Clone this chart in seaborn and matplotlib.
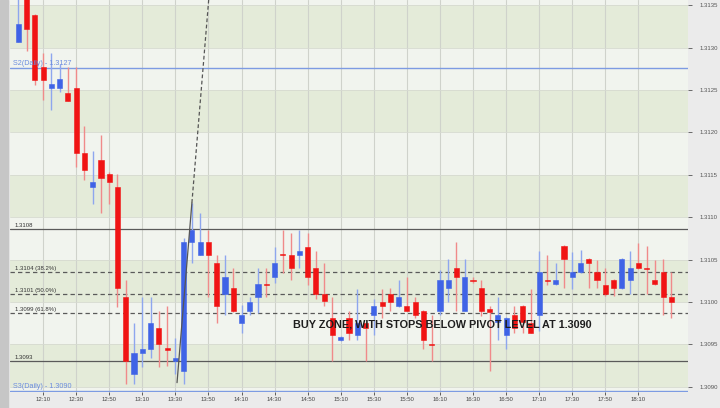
import numpy as np
import pandas as pd
import matplotlib
matplotlib.use('Agg')
import matplotlib.pyplot as plt
import matplotlib.dates as mdates
import matplotlib.transforms as mtrans
import seaborn as sns

# 5 minute candles, 11:55 - 18:30
times = pd.date_range('2013-05-20 11:55', periods=80, freq='5min')

opens = [1.31307, 1.31358, 1.31338, 1.31277, 1.31252, 1.31252, 1.31246, 1.31252, 1.31176, 1.31136,
         1.31167, 1.31151, 1.31136, 1.31006, 1.30915, 1.30940, 1.30945, 1.30970, 1.30945, 1.30930,
         1.30919, 1.31071, 1.31055, 1.31071, 1.31046, 1.31010, 1.31016, 1.30975, 1.30990, 1.31006,
         1.31021, 1.31030, 1.31056, 1.31055, 1.31055, 1.31065, 1.31040, 1.31010, 1.30981, 1.30955,
         1.30981, 1.30961, 1.30975, 1.30985, 1.31000, 1.31010, 1.30995, 1.30995, 1.31000, 1.30990,
         1.30950, 1.30990, 1.31016, 1.31040, 1.30990, 1.31026, 1.31016, 1.30992, 1.30976, 1.30961,
         1.30985, 1.30995, 1.30975, 1.30985, 1.31026, 1.31021, 1.31066, 1.31030, 1.31035, 1.31051,
         1.31035, 1.31020, 1.31026, 1.31016, 1.31026, 1.31046, 1.31040, 1.31026, 1.31035, 1.31006]
highs = [1.31370, 1.31370, 1.31340, 1.31293, 1.31293, 1.31281, 1.31277, 1.31277, 1.31207, 1.31178,
         1.31197, 1.31153, 1.31151, 1.31026, 1.30975, 1.31006, 1.31006, 1.30990, 1.30995, 1.30958,
         1.31076, 1.31117, 1.31105, 1.31085, 1.31055, 1.31055, 1.31040, 1.30996, 1.31006, 1.31040,
         1.31040, 1.31065, 1.31085, 1.31081, 1.31085, 1.31081, 1.31060, 1.31046, 1.31006, 1.30960,
         1.30990, 1.31015, 1.30976, 1.31004, 1.31015, 1.31016, 1.31026, 1.31030, 1.31006, 1.30991,
         1.30985, 1.31038, 1.31051, 1.31071, 1.31051, 1.31030, 1.31026, 1.30995, 1.31006, 1.30982,
         1.30995, 1.30996, 1.31015, 1.31060, 1.31056, 1.31046, 1.31067, 1.31059, 1.31061, 1.31052,
         1.31050, 1.31040, 1.31027, 1.31052, 1.31060, 1.31070, 1.31066, 1.31050, 1.31051, 1.31035]
lows = [1.31307, 1.31296, 1.31256, 1.31238, 1.31226, 1.31248, 1.31237, 1.31159, 1.31144, 1.31116,
        1.31105, 1.31116, 1.30994, 1.30904, 1.30904, 1.30923, 1.30934, 1.30924, 1.30925, 1.30915,
        1.30904, 1.31046, 1.31055, 1.31006, 1.30975, 1.30985, 1.30988, 1.30964, 1.30985, 1.30987,
        1.31006, 1.31022, 1.31034, 1.31026, 1.31040, 1.31020, 1.31004, 1.30995, 1.30931, 1.30954,
        1.30955, 1.30955, 1.30931, 1.30961, 1.30981, 1.30990, 1.30994, 1.30989, 1.30981, 1.30945,
        1.30931, 1.30985, 1.31000, 1.30990, 1.30989, 1.31022, 1.30983, 1.30919, 1.30955, 1.30945,
        1.30964, 1.30964, 1.30963, 1.30966, 1.31020, 1.31020, 1.31016, 1.31015, 1.31034, 1.31016,
        1.31016, 1.31007, 1.31007, 1.31015, 1.31010, 1.31039, 1.31010, 1.31020, 1.30985, 1.30981]
closes = [1.31328, 1.31322, 1.31262, 1.31262, 1.31257, 1.31263, 1.31237, 1.31176, 1.31156, 1.31142,
          1.31146, 1.31141, 1.31016, 1.30930, 1.30940, 1.30945, 1.30975, 1.30950, 1.30944, 1.30934,
          1.31071, 1.31085, 1.31071, 1.31055, 1.30995, 1.31030, 1.30990, 1.30985, 1.31000, 1.31021,
          1.31020, 1.31046, 1.31055, 1.31040, 1.31060, 1.31030, 1.31010, 1.31001, 1.30961, 1.30959,
          1.30964, 1.30975, 1.30970, 1.30995, 1.30995, 1.31000, 1.31006, 1.30990, 1.30985, 1.30955,
          1.30949, 1.31026, 1.31026, 1.31030, 1.31030, 1.31025, 1.30990, 1.30988, 1.30985, 1.30981,
          1.30970, 1.30976, 1.30964, 1.31035, 1.31025, 1.31026, 1.31051, 1.31035, 1.31046, 1.31046,
          1.31026, 1.31010, 1.31016, 1.31051, 1.31040, 1.31040, 1.31039, 1.31021, 1.31006, 1.31000]

# horizontal levels drawn on the chart
pivot_levels = [1.31276, 1.30895]
pivot_labels = ['S2(Daily) - 1.3127', 'S3(Daily) - 1.3090']
solid_levels = [1.31086, 1.30931]
solid_labels = ['1.3108', '1.3093']
fib_levels = [1.31036, 1.31010, 1.30987]
fib_labels = ['1.3104 (38.2%)', '1.3101 (50.0%)', '1.3099 (61.8%)']

# trend line off the 13:30 low
trend_times = ['2013-05-20 13:31', '2013-05-20 13:40']
trend_prices = [1.30905, 1.31117]

note = 'BUY ZONE, WITH STOPS BELOW PIVOT LEVEL AT 1.3090'
note_time = '2013-05-20 14:41'
note_price = 1.30973

x_ticks = pd.date_range('2013-05-20 12:10', '2013-05-20 18:10', freq='20min')

sns.set_style('white')
plt.rcParams['font.family'] = ['Liberation Sans', 'DejaVu Sans']

fig = plt.figure(figsize=(7.2, 4.08), dpi=100, facecolor='#ebebeb')
fig.patches.append(plt.Rectangle((0, 0), 8 / 720, 1, transform=fig.transFigure,
                                 color='#c6c6c6', zorder=0))
ax = fig.add_axes([10 / 720, 16 / 408, 678 / 720, 392 / 408])

x = mdates.date2num(times)
o = np.array(opens)
h = np.array(highs)
l = np.array(lows)
c = np.array(closes)

y_lo, y_hi = 1.30894, 1.31356
y_ticks = np.round(np.arange(1.3090, 1.31351, 0.0005), 4)

# alternating background bands
edges = [y_lo] + list(y_ticks) + [y_hi]
for k in range(len(edges) - 1):
    col = '#e4ebd9' if k % 2 == 1 else '#f1f4ee'
    ax.axhspan(edges[k], edges[k + 1], color=col, lw=0, zorder=0)

# candles
up = c > o
body_col = np.where(up, '#3f63e6', '#f01414')
wick_col = np.where(up, '#8ea6ee', '#f08a8a')
ax.vlines(x, l, h, colors=wick_col, lw=1.0, zorder=3)
height = np.maximum(np.abs(c - o), 0.000013)
ax.bar(x, height, bottom=np.minimum(o, c), width=3.1 / 1440, color=body_col,
       edgecolor=body_col, lw=0.4, zorder=4)

# levels
lab_tr = mtrans.blended_transform_factory(ax.transAxes, ax.transData)
for lv, lb in zip(pivot_levels, pivot_labels):
    ax.axhline(lv, color='#7d9be2', lw=1.0, zorder=2)
    ax.text(0.004, lv + 0.00001, lb, transform=lab_tr, fontsize=5.2, color='#6c8ddf',
            va='bottom', ha='left', zorder=6)
for lv, lb in zip(solid_levels, solid_labels):
    ax.axhline(lv, color='#5a5a5a', lw=0.9, zorder=2)
    ax.text(0.006, lv + 0.00001, lb, transform=lab_tr, fontsize=4.3, color='#333333',
            va='bottom', ha='left', zorder=6)
for lv, lb in zip(fib_levels, fib_labels):
    ax.axhline(lv, color='#5a5a5a', lw=0.9, ls=(0, (3.5, 2.5)), zorder=2)
    ax.text(0.007, lv + 0.00001, lb, transform=lab_tr, fontsize=4.3, color='#333333',
            va='bottom', ha='left', zorder=6)

# trend line, solid then extended dashed
tx = mdates.date2num(pd.to_datetime(trend_times))
slope = (trend_prices[1] - trend_prices[0]) / (tx[1] - tx[0])
sns.lineplot(x=tx, y=trend_prices, ax=ax, color='#555555', lw=0.9, zorder=5)
x_top = tx[1] + (y_hi - trend_prices[1]) / slope
ax.plot([tx[1], x_top], [trend_prices[1], y_hi], color='#555555', lw=0.9,
        ls=(0, (3, 2)), zorder=5)

ax.text(mdates.date2num(pd.Timestamp(note_time)), note_price, note, fontsize=7.8,
        fontweight='bold', color='#1e1e1e', va='center', ha='left', zorder=7)

# axes
ax.set_xlim(mdates.date2num(pd.Timestamp('2013-05-20 11:50')),
            mdates.date2num(pd.Timestamp('2013-05-20 18:40')))
ax.set_ylim(y_lo, y_hi)
ax.set_xticks(mdates.date2num(x_ticks))
ax.xaxis.set_major_formatter(mdates.DateFormatter('%H:%M'))
ax.yaxis.tick_right()
ax.set_yticks(y_ticks)
ax.set_yticklabels([f'{v:.4f}' for v in y_ticks])
ax.tick_params(axis='y', labelsize=4.3, colors='#555555', length=3, width=0.6,
               direction='out', pad=5, right=True)
ax.tick_params(axis='x', labelsize=4.3, colors='#444444', length=2, width=0.6,
               direction='out', pad=1.5, bottom=True)
ax.grid(True, axis='x', color='#cfd2cb', lw=0.8, zorder=1)
ax.grid(True, axis='y', color='#d6dad0', lw=0.6, zorder=1)
ax.set_axisbelow(True)
for s in ax.spines.values():
    s.set_visible(False)
ax.set_xlabel('')
ax.set_ylabel('')

fig.savefig('out.png', dpi=100, facecolor=fig.get_facecolor())
